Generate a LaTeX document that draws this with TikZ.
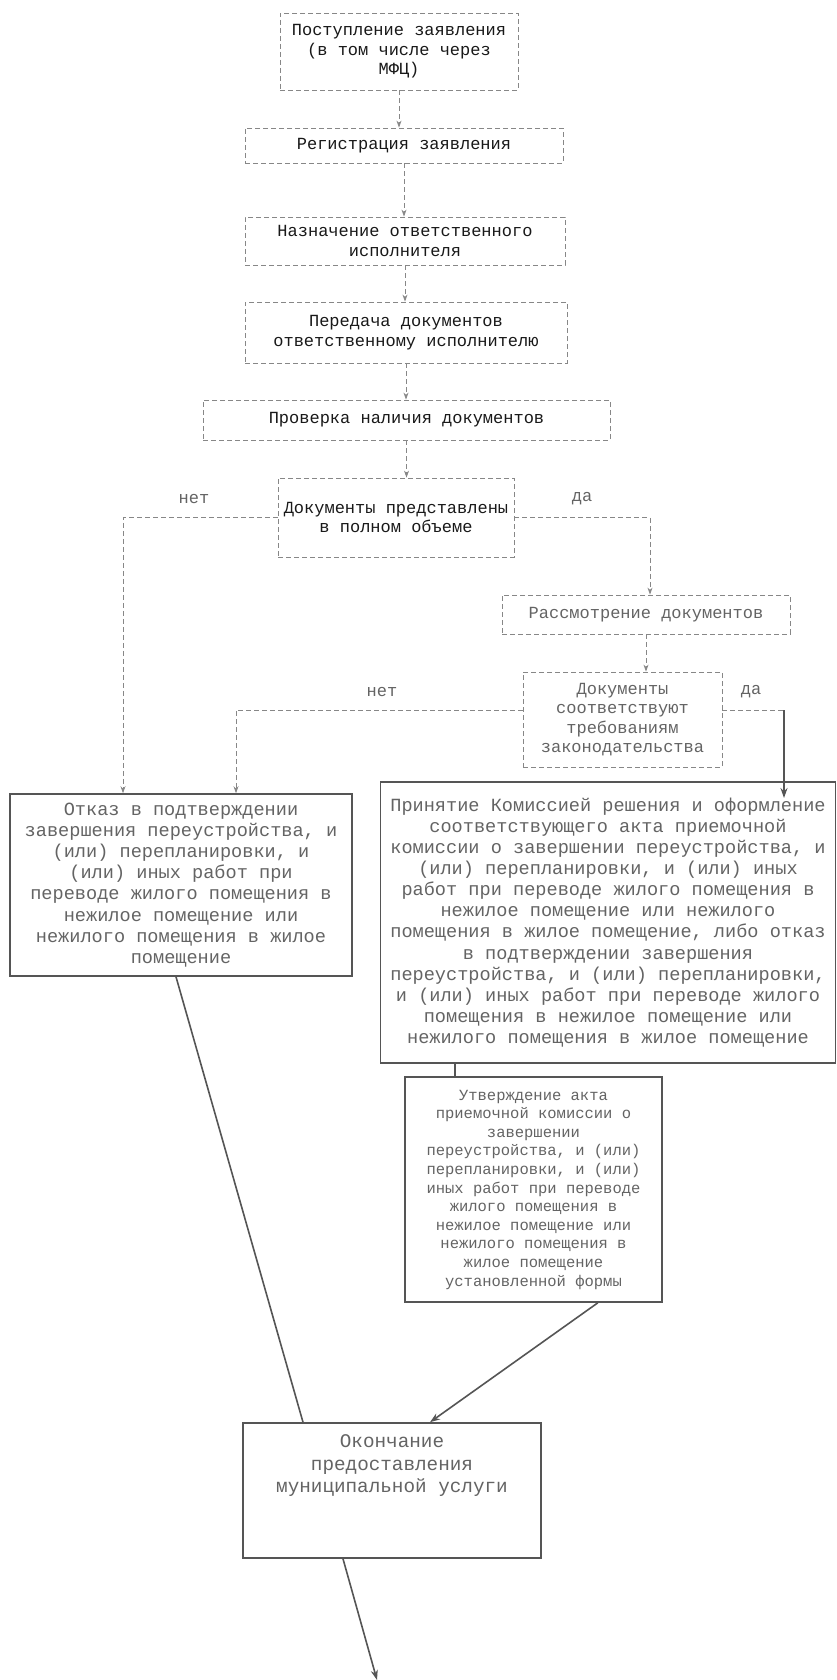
\documentclass[tikz,border=0pt]{standalone}
\usepackage{fontspec}
\newfontfamily\boxmono{Liberation Mono}
\usepackage{tikz}
\usetikzlibrary{arrows.meta}
\definecolor{inkblack}{RGB}{25,25,25}
\definecolor{inkgrey}{RGB}{100,100,100}
\definecolor{dashgrey}{RGB}{135,135,135}
\definecolor{framegrey}{RGB}{85,85,85}

\begin{document}
\begin{tikzpicture}[
        x=1pt, y=-1pt,
        dbox/.style={rectangle, draw=dashgrey, dash pattern=on 5pt off 3pt, line width=0.8pt, inner sep=0pt, align=center, text=inkblack, font=\boxmono\fontsize{17}{19.5}\selectfont},
        sbox/.style={rectangle, draw=framegrey, line width=1.6pt, inner sep=0pt, align=center, text=inkgrey, font=\boxmono\fontsize{18.6}{21.1}\selectfont},
        lbl/.style={text=inkgrey, font=\boxmono\fontsize{17}{19.5}\selectfont},
        dline/.style={draw=dashgrey, dash pattern=on 5pt off 3pt, line width=0.8pt},
        darrow/.style={dline, -{Stealth[length=7pt, width=5pt]}},
        sline/.style={draw=framegrey, line width=1.6pt},
        sarrow/.style={sline, -{Stealth[length=10pt, width=7pt]}}
    ]
        \useasboundingbox[fill=white] (0,0) rectangle (837,1680);

        % Dashed boxes of the first part
        \node[dbox, minimum width=238, minimum height=77] (receive) at (399,51.5) {Поступление заявления\\(в том числе через\\МФЦ)};
        \node[dbox, minimum width=318, minimum height=35] (register) at (404,145.5) {Регистрация заявления};
        \node[dbox, minimum width=320, minimum height=48] (assign) at (405,241) {Назначение ответственного\\исполнителя};
        \node[dbox, minimum width=322, minimum height=61] (handover) at (406,332.5) {Передача документов\\ответственному исполнителю};
        \node[dbox, minimum width=407, minimum height=40] (check) at (406.5,420) {Проверка наличия документов};
        \node[dbox, minimum width=236, minimum height=79] (complete) at (396,517.5) {Документы представлены\\в полном объеме};

        % Review and second check
        \node[dbox, text=inkgrey, minimum width=288, minimum height=39] (review) at (646,614.5) {Рассмотрение документов};
        \node[dbox, text=inkgrey, minimum width=199, minimum height=95] (conform) at (622.5,719.5) {Документы\\соответствуют\\требованиям\\законодательства};

        % Branch labels
        \node[lbl] (no1) at (194,499) {нет};
        \node[lbl] (yes1) at (582,499) {да};
        \node[lbl] (no2) at (382,692) {нет};
        \node[lbl] (yes2) at (751,692) {да};

        % Solid boxes
        \node[sbox, minimum width=342, minimum height=182] (refuse) at (181,885) {Отказ в подтверждении\\завершения переустройства, и\\(или) перепланировки, и\\(или) иных работ при\\переводе жилого помещения в\\нежилое помещение или\\нежилого помещения в жилое\\помещение};
        \node[sbox, minimum width=455, minimum height=281] (accept) at (608,922.5) {Принятие Комиссией решения и оформление\\соответствующего акта приемочной\\комиссии о завершении переустройства, и\\(или) перепланировки, и (или) иных\\работ при переводе жилого помещения в\\нежилое помещение или нежилого\\помещения в жилое помещение, либо отказ\\в подтверждении завершения\\переустройства, и (или) перепланировки,\\и (или) иных работ при переводе жилого\\помещения в нежилое помещение или\\нежилого помещения в жилое помещение};
        \node[sbox, font=\boxmono\fontsize{15.5}{18.6}\selectfont, minimum width=257, minimum height=225] (approve) at (533.5,1189.5) {Утверждение акта\\приемочной комиссии о\\завершении\\переустройства, и (или)\\перепланировки, и (или)\\иных работ при переводе\\жилого помещения в\\нежилое помещение или\\нежилого помещения в\\жилое помещение\\установленной формы};
        \node[sbox, minimum width=298, minimum height=135] (finish) at (392,1490.5) {};
        \node[text=inkgrey, align=center, font=\boxmono\fontsize{19.3}{22.5}\selectfont] (finishtext) at (392,1466) {Окончание\\предоставления\\муниципальной услуги};

        % Corners and ends of connectors
        \coordinate (nocorner1) at (123,517.5);
        \coordinate (yescorner1) at (650,517.5);
        \coordinate (nocorner2) at (236,710);
        \coordinate (yescorner2) at (784,710);
        \coordinate (yestip) at (784,798);
        \coordinate (link) at (455,0);
        \coordinate (out) at (377,1680);

        % Dashed arrows down the first part
        \draw[darrow] (receive.south) -- (receive.south |- register.north);
        \draw[darrow] (register.south) -- (register.south |- assign.north);
        \draw[darrow] (assign.south) -- (assign.south |- handover.north);
        \draw[darrow] (handover.south) -- (handover.south |- check.north);
        \draw[darrow] (check.south) -- (check.south |- complete.north);

        % Branches of the first check
        \draw[darrow] (complete.west) -- (nocorner1) -- (nocorner1 |- refuse.north);
        \draw[darrow] (complete.east) -- (yescorner1) -- (yescorner1 |- review.north);
        \draw[darrow] (review.south) -- (review.south |- conform.north);

        % Branches of the second check
        \draw[darrow] (conform.west |- nocorner2) -- (nocorner2) -- (nocorner2 |- refuse.north);
        \draw[dline] (conform.east |- yescorner2) -- (yescorner2);
        \draw[sarrow] (yescorner2) -- (yestip);

        % Solid connectors
        \draw[sline] ([xshift=-5pt]refuse.south) -- ([xshift=-89pt]finish.north);
        \draw[sline] (accept.south -| link) -- (approve.north -| link);
        \draw[sarrow] ([xshift=-65pt]approve.south east) -- ([xshift=38pt]finish.north);
        \draw[sarrow] ([xshift=-49pt]finish.south) -- (out);

    \end{tikzpicture}
\end{document}
